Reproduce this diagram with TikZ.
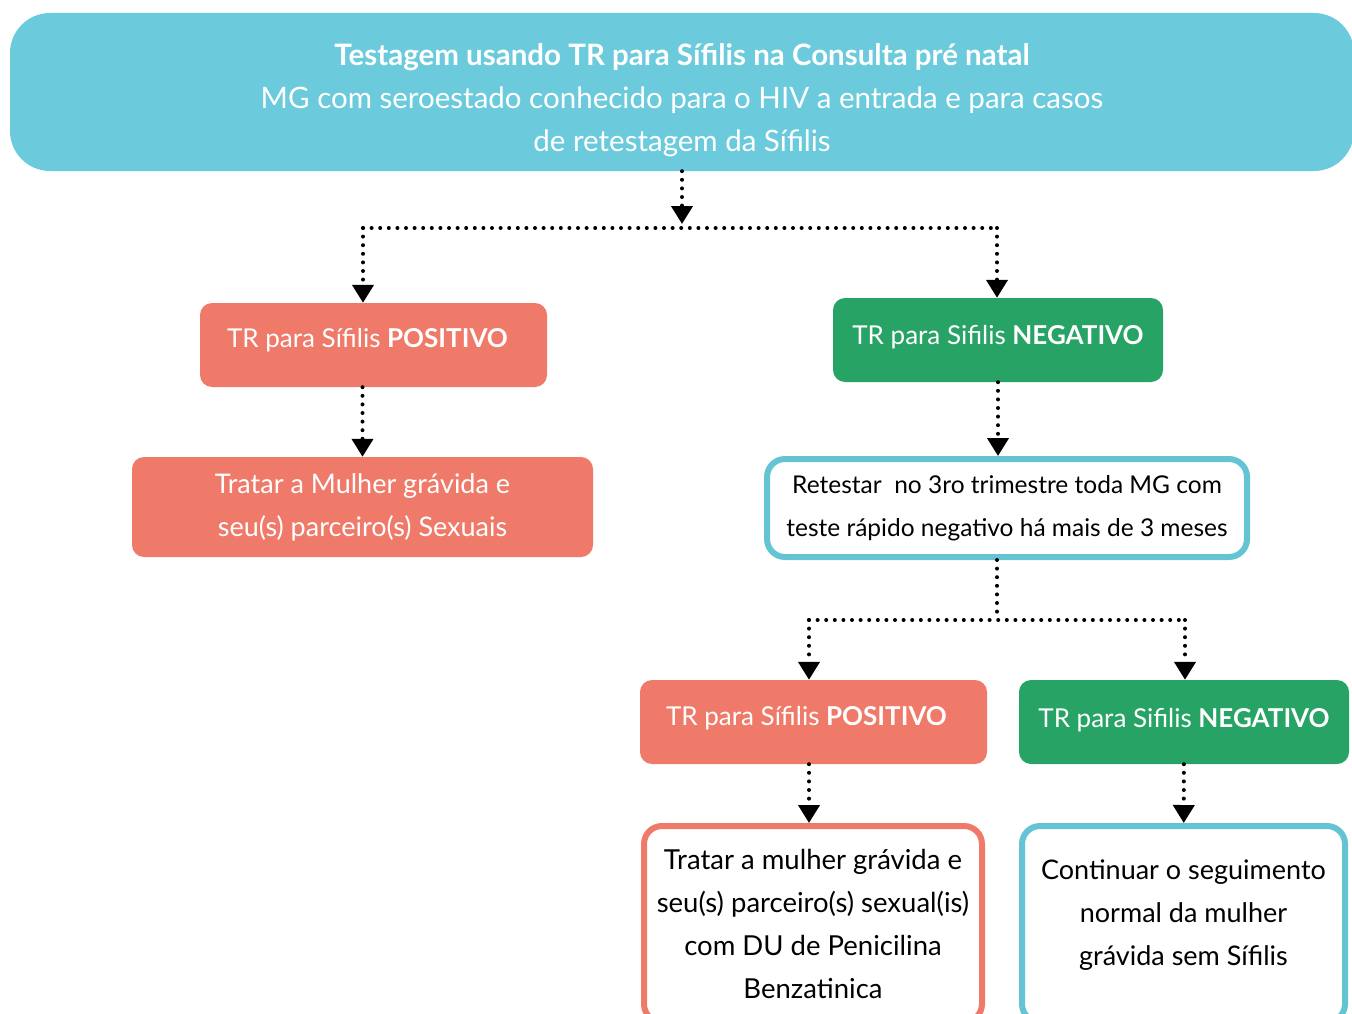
\documentclass[tikz,border=0pt]{standalone}
\usepackage{fontspec}
\setmainfont{Lato}
\usepackage{xcolor}
\usetikzlibrary{arrows.meta}
\definecolor{topcyan}{HTML}{6BCBDC}
\definecolor{salmon}{HTML}{EF7A6A}
\definecolor{leaf}{HTML}{28A366}
\definecolor{rimcyan}{HTML}{65C4D3}

\begin{document}
\begin{tikzpicture}[x=1pt,y=-1pt,
  box/.style={rounded corners=12pt,align=center,text=white,inner sep=0pt,
    font=\fontsize{26}{43}\selectfont},
  posbox/.style={box,fill=salmon},
  negbox/.style={box,fill=leaf},
  rimbox/.style={box,fill=white,text=black,line width=6pt,rounded corners=18pt},
  dots/.style={line width=4pt,line cap=round,dash pattern=on 0pt off 8.6pt},
  conn/.style={dots,-{Triangle[width=21pt,length=18pt]}}]
\useasboundingbox (0,0) rectangle (1352,1014);

\node (top) [box,fill=topcyan,rounded corners=40pt,minimum width=1344pt,minimum height=158pt,
  font=\fontsize{29.5}{43}\selectfont] at (682,92)
  {\rule{0pt}{39pt}\textbf{Testagem usando TR para Sífilis na Consulta pré natal}\\
   MG com seroestado conhecido para o HIV a entrada e para casos\\
   de retestagem da Sífilis};

\node (pos1) [posbox,minimum width=347pt,minimum height=84pt] at (373.5,345)
  {TR para Sífilis \textbf{POSITIVO}\rule[-14pt]{0pt}{1pt}\hspace*{12pt}};
\node (neg1) [negbox,minimum width=330pt,minimum height=84pt] at (998,340)
  {TR para Sifilis \textbf{NEGATIVO}\rule[-10pt]{0pt}{1pt}};
\node (treatl) [posbox,minimum width=461pt,minimum height=100pt,
  font=\fontsize{27}{43}\selectfont] at (362.5,507)
  {Tratar a Mulher grávida e\\ seu(s) parceiro(s) Sexuais};
\node (retest) [rimbox,draw=rimcyan,minimum width=480pt,minimum height=98pt,
  font=\fontsize{24.5}{43}\selectfont] at (1007,508)
  {Retestar\ \ no 3ro trimestre toda MG com\\ teste rápido negativo há mais de 3 meses};
\node (pos2) [posbox,minimum width=347pt,minimum height=84pt] at (813.5,722)
  {TR para Sífilis \textbf{POSITIVO}\rule[-12pt]{0pt}{1pt}\hspace*{14pt}};
\node (neg2) [negbox,minimum width=330pt,minimum height=84pt] at (1184,722)
  {TR para Sifilis \textbf{NEGATIVO}\rule[-8pt]{0pt}{1pt}};
\node (treat2) [rimbox,draw=salmon,minimum width=338pt,minimum height=196pt,
  font=\fontsize{27.5}{43}\selectfont] at (813,924)
  {Tratar a mulher grávida e\\ seu(s) parceiro(s) sexual(is)\\ com DU de Penicilina\\ Benzatinica};
\node (cont) [rimbox,draw=rimcyan,minimum width=323pt,minimum height=196pt,
  font=\fontsize{27}{43}\selectfont] at (1183.5,924)
  {Continuar o seguimento\\ normal da mulher\\ grávida sem Sífilis\rule[-23pt]{0pt}{1pt}};

\coordinate (j1) at (682,224);
\coordinate (j1l) at (363,228);
\coordinate (j1r) at (997,228);
\coordinate (j2) at (997,620);
\coordinate (j2l) at (809,620);
\coordinate (j2r) at (1185,620);

\draw[conn] (top) -- (j1);
\draw[dots] (j1l) -- (j1r);
\draw[conn] (j1l) -- (j1l |- pos1.north);
\draw[conn] (j1r) -- (j1r |- neg1.north);
\draw[conn] (treatl |- pos1.south) -- (treatl.north);
\draw[conn] (neg1.south) -- (neg1.south |- retest.north);
\draw[dots] (j2 |- retest.south) -- (j2);
\draw[dots] (j2l) -- (j2r);
\draw[conn] (j2l) -- (j2l |- pos2.north);
\draw[conn] (j2r) -- (j2r |- neg2.north);
\draw[conn] (j2l |- pos2.south) -- (j2l |- treat2.north);
\draw[conn] (neg2) -- (cont);
\end{tikzpicture}
\end{document}
